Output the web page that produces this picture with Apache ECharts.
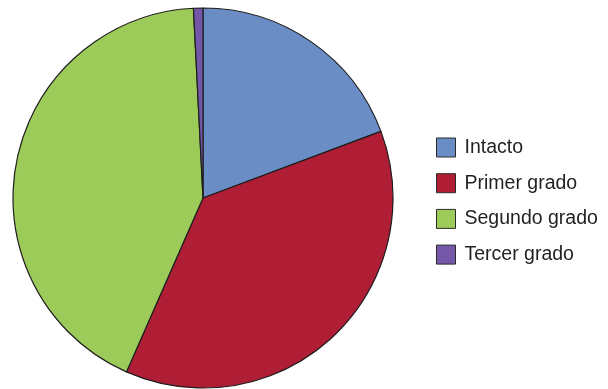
<!DOCTYPE html>
<html><head><meta charset="utf-8">
<script src="https://cdn.jsdelivr.net/npm/echarts@6/dist/echarts.min.js"></script>
<style>html,body{margin:0;padding:0;background:#fff}#c{width:608px;height:389px}</style>
</head><body><div id="c"></div>
<script>
const categories = ["Intacto", "Primer grado", "Segundo grado", "Tercer grado"];
const values = [19.3, 37.3, 42.6, 0.8];
const colors = ["#6a8dc6", "#b01e36", "#9dcb59", "#7457a7"];

const chart = echarts.init(document.getElementById('c'), null, {renderer: 'canvas'});
chart.setOption({
  animation: false,
  backgroundColor: '#ffffff',
  legend: {
    orient: 'vertical',
    left: 436,
    top: 137.5,
    padding: 0,
    itemWidth: 19,
    itemHeight: 19,
    itemGap: 15.7,
    icon: 'rect',
    itemStyle: {borderColor: '#2a2a2a', borderWidth: 1},
    textStyle: {fontFamily: 'Liberation Sans, Arial, sans-serif', fontSize: 19.5, color: '#231f20', padding: [0, 0, 0, 4]},
    data: categories
  },
  series: [{
    type: 'pie',
    center: [203, 198],
    radius: 190,
    startAngle: 90,
    clockwise: true,
    label: {show: false},
    labelLine: {show: false},
    emphasis: {disabled: true},
    itemStyle: {borderColor: '#1e1e1e', borderWidth: 1.2},
    data: categories.map((n, i) => ({name: n, value: values[i], itemStyle: {color: colors[i]}}))
  }]
});
</script></body></html>
